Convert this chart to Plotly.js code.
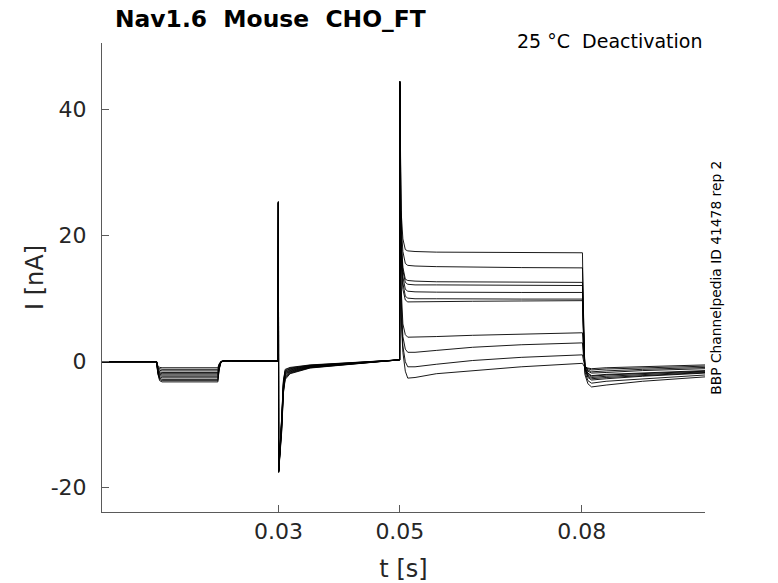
<!DOCTYPE html>
<html>
<head>
<meta charset="utf-8">
<script src="https://cdn.plot.ly/plotly-3.0.1.min.js"></script>
<style>
  html, body { margin: 0; padding: 0; background: #fff; }
  #chart { width: 778px; height: 583px; }
</style>
</head>
<body>
<div id="chart"></div>
<script>
// sample times (s), shared by every sweep
var t = [0.0009, 0.0099, 0.0101, 0.0104, 0.0108, 0.0200, 0.0202, 0.0205, 0.0210, 0.0299,
         0.02998, 0.03002, 0.03053, 0.0308, 0.0311, 0.0319, 0.0352, 0.0499, 0.04996, 0.0500,
         0.0502, 0.0505, 0.0509, 0.0513, 0.0525, 0.0560, 0.0620, 0.0700, 0.0801, 0.08025,
         0.0805, 0.0810, 0.0816, 0.0840, 0.0900, 0.1003];

// current (nA) of each sweep
var sweep1  = [0, 0, -1.9, -3.0, -3.2, -3.2, -1.3, -0.1, 0.15, 0.1, 25.4, -17.6, -11.0, -5.0, -2.8, -1.9, -1.0, 0.3, 0.3, 44.5, 24.0, 19.5, 17.8, 17.6, 17.5, 17.4, 17.35, 17.3, 17.3, 8.0, -2.0, -3.5, -4.0, -3.7, -3.1, -2.4];
var sweep2  = [0, 0, -1.8, -2.8, -3.0, -3.0, -1.2, -0.1, 0.15, 0.1, 25.4, -17.5, -10.6, -4.8, -2.6, -1.8, -0.95, 0.3, 0.3, 44.5, 22.0, 17.5, 15.6, 15.3, 15.2, 15.1, 15.0, 14.95, 14.9, 6.8, -1.6, -3.0, -3.4, -3.1, -2.7, -2.1];
var sweep3  = [0, 0, -1.7, -2.6, -2.8, -2.8, -1.1, -0.05, 0.15, 0.1, 25.4, -17.5, -10.3, -4.6, -2.45, -1.7, -0.9, 0.3, 0.3, 44.4, 20.0, 15.0, 13.1, 12.9, 12.8, 12.7, 12.65, 12.6, 12.6, 5.6, -1.2, -2.5, -2.9, -2.7, -2.3, -1.8];
var sweep4  = [0, 0, -1.5, -2.4, -2.55, -2.55, -1.0, -0.05, 0.15, 0.1, 25.3, -17.4, -10.0, -4.4, -2.3, -1.6, -0.85, 0.3, 0.3, 38.4, 19.0, 14.5, 12.6, 12.3, 12.2, 12.2, 12.15, 12.1, 12.1, 5.4, -1.1, -2.3, -2.7, -2.5, -2.2, -1.7];
var sweep5  = [0, 0, -1.4, -2.2, -2.3, -2.3, -0.9, 0, 0.15, 0.1, 25.3, -17.4, -9.8, -4.2, -2.1, -1.5, -0.8, 0.3, 0.3, 44.3, 18.0, 13.5, 11.5, 11.2, 11.1, 11.05, 11.0, 11.0, 11.0, 4.9, -1.0, -2.1, -2.5, -2.3, -2.0, -1.6];
var sweep6  = [0, 0, -1.3, -2.0, -2.1, -2.1, -0.8, 0, 0.15, 0.1, 25.3, -17.3, -9.6, -4.0, -1.95, -1.4, -0.75, 0.3, 0.3, 36.1, 17.0, 12.5, 10.4, 10.1, 10.0, 10.0, 9.95, 9.95, 9.95, 4.4, -0.9, -1.9, -2.3, -2.1, -1.9, -1.5];
var sweep7  = [0, 0, -1.2, -1.8, -1.9, -1.9, -0.75, 0, 0.15, 0.1, 25.3, -17.3, -9.4, -3.8, -1.8, -1.3, -0.7, 0.3, 0.3, 30.5, 16.0, 11.5, 9.8, 9.5, 9.5, 9.55, 9.6, 9.65, 9.7, 4.3, -0.8, -1.8, -2.2, -2.0, -1.8, -1.4];
var sweep8  = [0, 0, -1.05, -1.6, -1.7, -1.7, -0.65, 0, 0.15, 0.1, 25.3, -17.2, -9.2, -3.6, -1.65, -1.2, -0.65, 0.3, 0.3, 44.0, 12.0, 6.0, 4.3, 3.9, 3.9, 4.0, 4.2, 4.4, 4.6, 2.0, -0.6, -1.5, -1.8, -1.7, -1.4, -1.1];
var sweep9  = [0, 0, -0.9, -1.35, -1.45, -1.45, -0.55, 0, 0.15, 0.1, 25.2, -17.2, -9.0, -3.4, -1.5, -1.1, -0.6, 0.3, 0.3, 26.0, 10.0, 4.0, 2.0, 1.5, 1.5, 1.8, 2.3, 2.7, 3.0, 1.2, -0.6, -1.3, -1.6, -1.45, -1.2, -0.9];
var sweep10 = [0, 0, -0.75, -1.1, -1.2, -1.2, -0.45, 0.05, 0.15, 0.1, 25.2, -17.1, -8.8, -3.2, -1.35, -1.0, -0.55, 0.3, 0.3, 21.3, 8.0, 2.5, 0.0, -0.8, -0.8, -0.4, 0.2, 0.7, 1.1, 0.3, -0.7, -1.1, -1.3, -1.15, -0.95, -0.7];
var sweep11 = [0, 0, -0.6, -0.9, -0.95, -0.95, -0.35, 0.05, 0.15, 0.1, 25.2, -17.1, -8.6, -3.0, -1.2, -0.9, -0.5, 0.3, 0.3, 44.5, 7.0, 1.5, -1.5, -2.6, -2.5, -1.9, -1.4, -0.8, -0.25, -0.6, -0.9, -1.0, -1.1, -0.95, -0.8, -0.5];

var xTicks = [0.03, 0.05, 0.08];
var xTickText = ['0.03', '0.05', '0.08'];
var yTicks = [-20, 0, 20, 40];
var yTickText = ['-20', '0', '20', '40'];

var sweeps = [sweep1, sweep2, sweep3, sweep4, sweep5, sweep6, sweep7, sweep8, sweep9, sweep10, sweep11];

var font = 'DejaVu Sans, Liberation Sans, sans-serif';
var axisGrey = '#5a5a5a';

var data = sweeps.map(function(s) {
    return {
        x: t,
        y: s,
        type: 'scatter',
        mode: 'lines',
        line: { color: 'black', width: 0.9 },
        hoverinfo: 'x+y'
    };
});

var layout = {
    width: 778,
    height: 583,
    paper_bgcolor: 'white',
    plot_bgcolor: 'white',
    showlegend: false,
    margin: { l: 102, r: 73, t: 43, b: 71, pad: 0 },
    title: {
        text: '<b>Nav1.6\u00a0\u00a0Mouse\u00a0\u00a0CHO_FT</b>',
        font: { family: font, size: 23.4, color: 'black' },
        xref: 'container', x: 115 / 778, xanchor: 'left',
        yref: 'container', y: 1 - 19 / 583, yanchor: 'middle'
    },
    xaxis: {
        range: [0.0009, 0.1003],
        tickvals: xTicks,
        ticktext: xTickText,
        ticks: 'inside', ticklen: 7, tickwidth: 1, tickcolor: axisGrey,
        ticklabelstandoff: 0,
        showline: true, linecolor: axisGrey, linewidth: 1,
        showgrid: false, zeroline: false,
        tickfont: { family: font, size: 22, color: '#262626' },
        title: { text: 't [s]', font: { family: font, size: 24, color: '#262626' }, standoff: 22 }
    },
    yaxis: {
        range: [-23.85, 50.6],
        tickvals: yTicks,
        ticktext: yTickText,
        ticks: 'inside', ticklen: 7, tickwidth: 1, tickcolor: axisGrey,
        ticklabelstandoff: 10,
        showline: true, linecolor: axisGrey, linewidth: 1,
        showgrid: false, zeroline: false,
        tickfont: { family: font, size: 22, color: '#262626' },
        title: { text: 'I [nA]', font: { family: font, size: 24, color: '#262626' }, standoff: 0 }
    },
    annotations: [
        {
            text: '25 \u00b0C\u00a0\u00a0Deactivation',
            showarrow: false,
            xref: 'paper', yref: 'paper',
            x: 0.9983, xanchor: 'right',
            y: 1.0049, yanchor: 'middle',
            font: { family: font, size: 19, color: 'black' }
        },
        {
            text: 'BBP Channelpedia ID 41478 rep 2',
            showarrow: false,
            textangle: -90,
            xref: 'paper', yref: 'paper',
            x: 1.017, xanchor: 'center',
            y: 0.5, yanchor: 'middle',
            font: { family: font, size: 13.8, color: 'black' }
        }
    ]
};

Plotly.newPlot('chart', data, layout, { displayModeBar: false, responsive: false });
</script>
</body>
</html>
